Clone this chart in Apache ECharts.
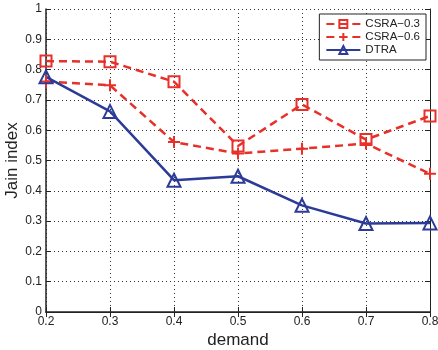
<!DOCTYPE html>
<html>
<head>
<meta charset="utf-8">
<script src="https://cdn.jsdelivr.net/npm/echarts@6/dist/echarts.min.js"></script>
<style>
  html, body { margin: 0; padding: 0; background: #fff; }
  #chart { width: 438px; height: 350px; }
</style>
</head>
<body>
<div id="chart"></div>
<script>
// ===== Data =====
const demand = ['0.2', '0.3', '0.4', '0.5', '0.6', '0.7', '0.8'];
const csra03 = [0.828, 0.826, 0.760, 0.548, 0.685, 0.569, 0.647];
const csra06 = [0.761, 0.748, 0.561, 0.523, 0.539, 0.556, 0.456];
const dtra   = [0.776, 0.662, 0.435, 0.448, 0.352, 0.292, 0.294];

const RED = '#e8302a';
const BLUE = '#2c3b98';
const FONT = '"Liberation Sans", Arial, sans-serif';
const PLUS = 'path://M0,5L10,5M5,0L5,10';

// ===== Chart =====
const chart = echarts.init(document.getElementById('chart'), null, { renderer: 'canvas' });

const gridLine = { show: true, lineStyle: { color: '#333', type: [1, 3], width: 1 } };
const tickIn = { show: true, inside: true, length: 5, lineStyle: { color: '#222' } };

function lineSeries(name, data, color, symbol, size, dashed) {
  return {
    name, type: 'line', data,
    symbol, symbolSize: size,
    showAllSymbol: true,
    lineStyle: { color, width: 2.5, type: dashed ? [8, 5] : 'solid' },
    itemStyle: { color: 'rgba(0,0,0,0)', borderColor: color, borderWidth: 2 },
    emphasis: { disabled: true },
    animation: false
  };
}

chart.setOption({
  backgroundColor: '#fff',
  textStyle: { fontFamily: FONT },
  grid: { left: 46, right: 8, top: 9, bottom: 38, containLabel: false, outerBoundsMode: 'none' },
  legend: {
    orient: 'vertical',
    right: 12, top: 14,
    backgroundColor: '#fff',
    borderColor: '#222', borderWidth: 1,
    padding: [4, 6, 4, 6],
    itemWidth: 34, itemHeight: 10, itemGap: 1,
    textStyle: { fontSize: 11.5, color: '#222', fontFamily: FONT },
    data: ['CSRA−0.3', 'CSRA−0.6', 'DTRA']
  },
  xAxis: [{
    type: 'category', data: demand, boundaryGap: false,
    name: 'demand', nameLocation: 'middle', nameGap: 20, nameMoveOverlap: false,
    nameTextStyle: { fontSize: 17, color: '#222', fontFamily: FONT },
    axisLine: { lineStyle: { color: '#222', width: 1.5 } },
    axisTick: Object.assign({ alignWithLabel: true }, tickIn),
    axisLabel: { color: '#222', fontSize: 12, margin: 4, showMaxLabel: true },
    splitLine: gridLine
  }, {
    type: 'category', data: demand, boundaryGap: false, position: 'top',
    axisLine: { lineStyle: { color: '#222', width: 1 } },
    axisTick: tickIn, axisLabel: { show: false }, splitLine: { show: false }
  }],
  yAxis: [{
    type: 'value', min: 0, max: 1, interval: 0.1,
    name: 'Jain index', nameLocation: 'middle', nameGap: 25, nameRotate: 90, nameMoveOverlap: false,
    nameTextStyle: { fontSize: 17, color: '#222', fontFamily: FONT },
    axisLine: { show: true, lineStyle: { color: '#222', width: 1.5 } },
    axisTick: tickIn,
    axisLabel: { color: '#222', fontSize: 12, margin: 4 },
    splitLine: gridLine
  }, {
    type: 'value', min: 0, max: 1, interval: 0.1, position: 'right',
    axisLine: { show: true, lineStyle: { color: '#222', width: 1 } },
    axisTick: tickIn, axisLabel: { show: false }, splitLine: { show: false }
  }],
  series: [
    lineSeries('CSRA−0.3', csra03, RED, 'rect', 11, true),
    lineSeries('CSRA−0.6', csra06, RED, PLUS, 12, true),
    lineSeries('DTRA', dtra, BLUE, 'triangle', 13, false)
  ]
});
</script>
</body>
</html>
